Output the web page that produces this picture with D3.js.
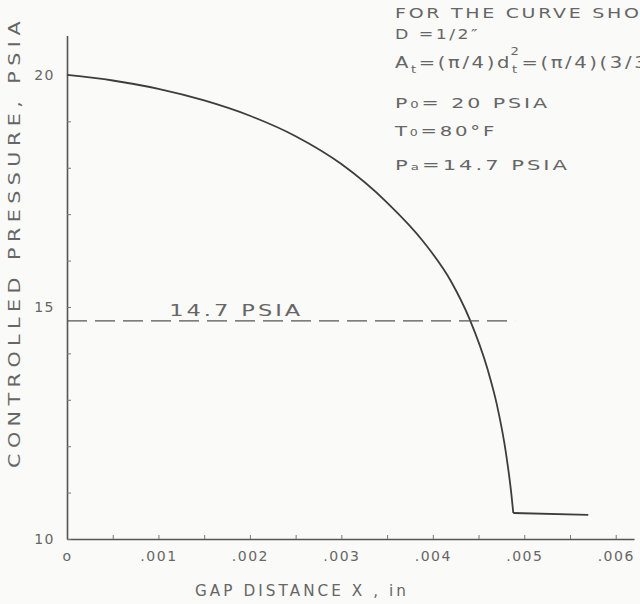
<!DOCTYPE html>
<html>
<head>
<meta charset="utf-8">
<script src="https://cdn.jsdelivr.net/npm/d3@7"></script>
<style>
  body { margin: 0; background: #fafaf8; }
  svg text { font-family: "DejaVu Sans", sans-serif; fill: #666; }
</style>
</head>
<body>
<div id="chart"></div>
<script>
// gap distance (in) vs controlled pressure (psia)
var curveX = [0, .0005, .001, .0015, .002, .0025, .003, .0035, .0039, .0042, .0044, .0046, .0047, .0048, .00486, .00488];
var curveP = [20, 19.88, 19.7, 19.45, 19.12, 18.68, 18.08, 17.25, 16.4, 15.55, 14.75, 13.65, 12.9, 11.85, 10.95, 10.56];

// flat part after the drop
var shelfX = [.00488, .0057];
var shelfP = [10.56, 10.52];

// ambient pressure line
var refX = [0, .0049];
var refP = [14.7, 14.7];
var refLabel = "14.7 PSIA";

var xTicks = [0, .0005, .001, .0015, .002, .0025, .003, .0035, .004, .0045, .005, .0055, .006];
var xTickLabels = ["o", "", ".001", "", ".002", "", ".003", "", ".004", "", ".005", "", ".006"];
var yTicks = [10, 11, 12, 13, 14, 15, 16, 17, 18, 19, 20];
var yTickLabels = ["10", "", "", "", "", "15", "", "", "", "", "20"];

var notes = [
    "FOR THE CURVE SHOWN",
    "D =1/2\u2033",
    "",
    "P\u2080= 20  PSIA",
    "T\u2080=80\u00b0F",
    "P\u2090=14.7  PSIA"
];
var noteWidths = [285, 85, 290, 155, 102, 175];

var width = 640, height = 604;

var svg = d3.select("#chart").append("svg")
    .attr("width", width)
    .attr("height", height);

var x = d3.scaleLinear()
    .domain([0, .0062])
    .range([67, 634]);

var y = d3.scaleLinear()
    .domain([10, 20.85])
    .range([539, 35.5]);

var xAxis = d3.axisBottom(x)
    .tickValues(xTicks)
    .tickSize(-4)
    .tickSizeOuter(0)
    .tickPadding(12)
    .tickFormat(function (d, i) { return xTickLabels[i]; });

var yAxis = d3.axisLeft(y)
    .tickValues(yTicks)
    .tickSize(-4)
    .tickSizeOuter(0)
    .tickPadding(12)
    .tickFormat(function (d, i) { return yTickLabels[i]; });

var gx = svg.append("g")
    .attr("transform", "translate(0," + y(10) + ")")
    .call(xAxis);

var gy = svg.append("g")
    .attr("transform", "translate(" + x(0) + ",0)")
    .call(yAxis);

[gx, gy].forEach(function (g) {
    g.select(".domain").attr("stroke", "#555").attr("stroke-width", 1.6);
    g.selectAll(".tick line").attr("stroke", "#777").attr("stroke-width", 1);
    g.selectAll(".tick text")
        .style("font-size", "14px")
        .style("letter-spacing", "1.5px")
        .attr("fill", "#666");
});

var line = d3.line()
    .x(function (d) { return x(d[0]); })
    .y(function (d) { return y(d[1]); });

// main curve
svg.append("path")
    .datum(d3.zip(curveX, curveP))
    .attr("fill", "none")
    .attr("stroke", "#3d3d3d")
    .attr("stroke-width", 1.8)
    .attr("d", line.curve(d3.curveMonotoneX));

svg.append("path")
    .datum(d3.zip(shelfX, shelfP))
    .attr("fill", "none")
    .attr("stroke", "#3d3d3d")
    .attr("stroke-width", 1.8)
    .attr("d", line.curve(d3.curveLinear));

// 14.7 psia dashed line
svg.append("path")
    .datum(d3.zip(refX, refP))
    .attr("fill", "none")
    .attr("stroke", "#555")
    .attr("stroke-width", 1.3)
    .style("stroke-dasharray", ("20, 8"))
    .attr("d", line);

svg.append("text")
    .attr("x", x(.00185))
    .attr("y", y(14.7) - 5)
    .attr("text-anchor", "middle")
    .attr("textLength", 134)
    .attr("lengthAdjust", "spacingAndGlyphs")
    .style("font-size", "15px")
    .style("letter-spacing", "2px")
    .text(refLabel);

// axis titles
svg.append("text")
    .attr("transform", "translate(20,242) rotate(-90)")
    .attr("text-anchor", "middle")
    .attr("textLength", 452)
    .attr("lengthAdjust", "spacingAndGlyphs")
    .style("font-size", "15px")
    .style("letter-spacing", "4px")
    .text("CONTROLLED  PRESSURE,  PSIA");

svg.append("text")
    .attr("x", 302)
    .attr("y", 596)
    .attr("text-anchor", "middle")
    .attr("textLength", 214)
    .attr("lengthAdjust", "spacingAndGlyphs")
    .style("font-size", "15px")
    .style("letter-spacing", "3px")
    .text("GAP   DISTANCE  X , in");

// notes block, top right
var noteY = [18, 39, 68, 108, 136, 170];
var notesG = svg.append("g")
    .style("font-size", "14px")
    .style("letter-spacing", "2px");

notes.forEach(function (t, i) {
    if (t == "") return;
    notesG.append("text")
        .attr("x", 395)
        .attr("y", noteY[i])
        .attr("textLength", noteWidths[i])
        .attr("lengthAdjust", "spacingAndGlyphs")
        .text(t);
})

// throat area line with sub/superscripts
var at = notesG.append("text")
    .attr("x", 395)
    .attr("y", noteY[2])
    .attr("textLength", noteWidths[2])
    .attr("lengthAdjust", "spacingAndGlyphs")
    .style("font-size", "15px");
at.append("tspan").text("A");
at.append("tspan").attr("dy", 5).style("font-size", "10px").text("t");
at.append("tspan").attr("dy", -5).text("=(\u03c0/4)d");
at.append("tspan").attr("dy", 5).style("font-size", "10px").text("t");
at.append("tspan").attr("dy", -18).attr("dx", -7).style("font-size", "10px").text("2");
at.append("tspan").attr("dy", 13).text("=(\u03c0/4)(3/32)\u00b2");
</script>
</body>
</html>
